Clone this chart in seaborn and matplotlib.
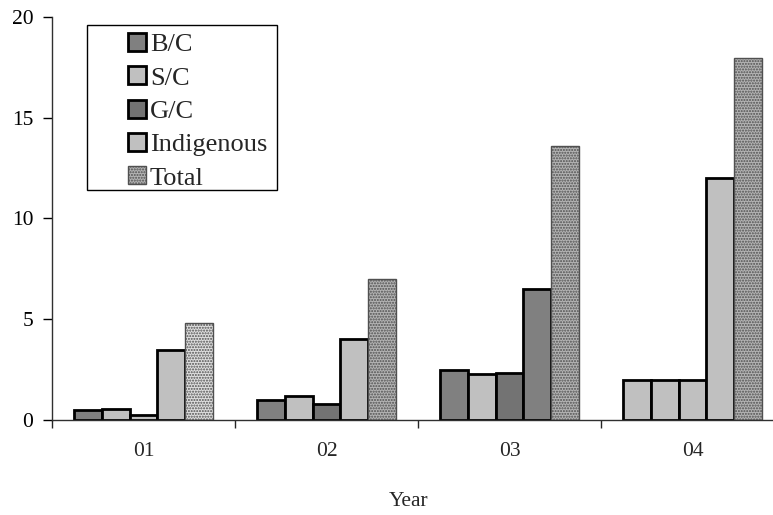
import numpy as np
import pandas as pd
import matplotlib
matplotlib.use("Agg")
import matplotlib.pyplot as plt
from matplotlib.patches import Patch, Rectangle
import seaborn as sns

# ---- data ----
years = ["01", "02", "03", "04"]
series = ["B/C", "S/C", "G/C", "Indigenous", "Total"]
bc = [0.5, 1.0, 2.5, 2.0]
sc = [0.57, 1.2, 2.27, 2.0]
gc = [0.24, 0.79, 2.33, 2.0]
indigenous = [3.48, 4.0, 6.48, 12.0]
total = [4.8, 6.98, 13.62, 17.95]

values = {"B/C": bc, "S/C": sc, "G/C": gc, "Indigenous": indigenous, "Total": total}
rows = []
for s in series:
    for y, v in zip(years, values[s]):
        rows.append({"Year": y, "Series": s, "Value": v})
df = pd.DataFrame(rows)

# ---- styling ----
sns.set_style("ticks")
plt.rcParams["font.family"] = ["Liberation Serif", "DejaVu Serif"]
plt.rcParams["hatch.linewidth"] = 1.0

DARK = "#808080"
DARKER = "#737373"
LIGHT = "#c0c0c0"
TOT = "#b4b4b4"
TOT_LIGHT = "#e0e0e0"

series_colors = {"B/C": DARK, "S/C": LIGHT, "G/C": DARKER, "Indigenous": LIGHT, "Total": TOT}
# per-bar face colours (year-major, series-minor), as drawn in the original
bar_colors = [
    [DARK, LIGHT, LIGHT, LIGHT, TOT_LIGHT],
    [DARK, LIGHT, DARKER, LIGHT, TOT],
    [DARK, LIGHT, DARKER, DARK, TOT],
    [LIGHT, LIGHT, LIGHT, LIGHT, TOT],
]

fig = plt.figure(figsize=(7.73, 5.15), dpi=100)
W, H = 773, 515
ax = fig.add_axes([52 / W, 95 / H, 732 / W, 403 / H])

sns.barplot(data=df, x="Year", y="Value", hue="Series", order=years,
            hue_order=series, palette=series_colors, saturation=1,
            width=0.765, dodge=True, legend=False, ax=ax,
            edgecolor="black", linewidth=2)

patches = sorted(ax.patches, key=lambda p: p.get_x())
for i, p in enumerate(patches):
    yi, si = divmod(i, len(series))
    p.set_facecolor(bar_colors[yi][si])
    if series[si] == "Total":
        p.set_hatch("......")
        p.set_edgecolor("#505050")
        p.set_linewidth(1.0)

ax.set_xlim(-0.5, 3.5)
ax.set_ylim(0, 20)
ax.set_yticks([0, 5, 10, 15, 20])
ax.tick_params(axis="y", direction="out", length=6.5, width=1, pad=7,
               labelsize=15.5, colors="black")
ax.set_xticks(range(len(years)))
ax.set_xticklabels(years)
ax.tick_params(axis="x", which="major", length=0, pad=16, labelsize=15.5)
ax.set_xticks([-0.5, 0.5, 1.5, 2.5, 3.5], minor=True)
ax.tick_params(axis="x", which="minor", direction="out", length=5.5, width=1)
for side in ["top", "right"]:
    ax.spines[side].set_visible(False)
for side in ["left", "bottom"]:
    ax.spines[side].set_color("#303030")
    ax.spines[side].set_linewidth(1)

ax.set_ylabel("")
ax.set_xlabel("Year", fontsize=15.5)
ax.xaxis.set_label_coords((409 - 52) / 732, (420 - 502) / 403)
ax.xaxis.label.set_va("center")

# legend
handles = []
for s in series:
    if s == "Total":
        handles.append(Patch(facecolor=TOT, edgecolor="#505050", hatch="......", linewidth=1))
    else:
        handles.append(Patch(facecolor=series_colors[s], edgecolor="black", linewidth=2))
leg = fig.legend(handles, series, loc="upper left",
                 bbox_to_anchor=(128 / W, 1 - 33 / H), frameon=False,
                 fontsize=19, handlelength=0.68, handleheight=0.68,
                 handletextpad=0.15, labelspacing=0.38, borderpad=0,
                 borderaxespad=0)
fig.patches.append(Rectangle((87 / W, 1 - 190 / H), 190 / W, 165 / H,
                             transform=fig.transFigure, fill=False,
                             edgecolor="black", linewidth=1))

fig.savefig("out.png", dpi=100)
